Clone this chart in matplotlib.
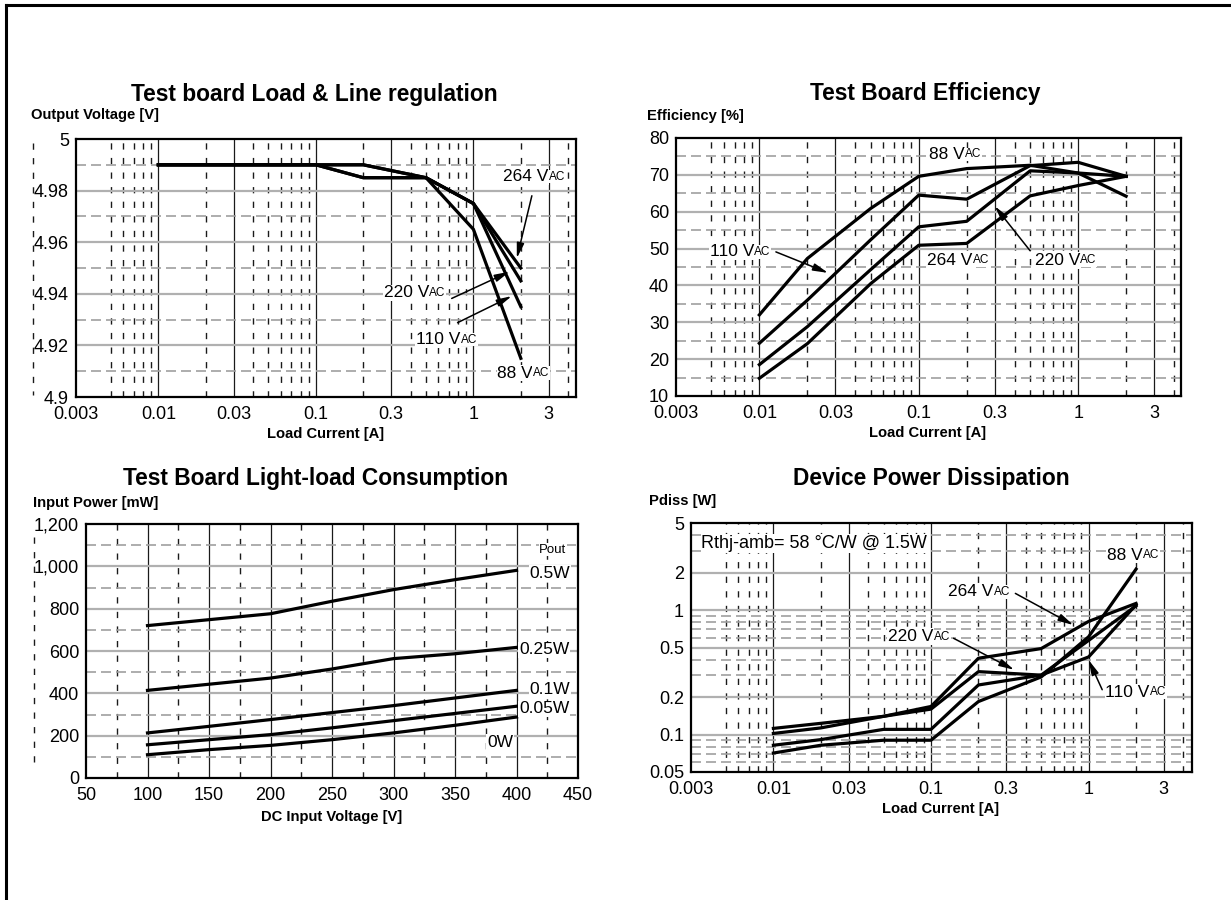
import matplotlib
matplotlib.use("Agg")
import matplotlib.pyplot as plt
from matplotlib.lines import Line2D

plt.rcParams['font.family'] = ['Liberation Sans', 'DejaVu Sans']

W, H = 1231, 900

# ---------------- data ----------------
reg_current = [0.01, 0.1, 0.2, 0.5, 1, 2]
reg_88 = [4.99, 4.99, 4.985, 4.985, 4.965, 4.915]
reg_110 = [4.99, 4.99, 4.985, 4.985, 4.975, 4.935]
reg_220 = [4.99, 4.99, 4.99, 4.985, 4.975, 4.945]
reg_264 = [4.99, 4.99, 4.99, 4.985, 4.975, 4.950]

eff_current = [0.01, 0.02, 0.05, 0.1, 0.2, 0.5, 1, 2]
eff_88 = [32, 47.3, 60.9, 69.6, 71.7, 72.6, 70.5, 64.2]
eff_110 = [24.3, 36, 52.4, 64.5, 63.4, 72.5, 73.4, 69.6]
eff_220 = [18.5, 28.8, 44.3, 55.9, 57.4, 71.1, 70.5, 69.6]
eff_264 = [14.8, 24.2, 40.5, 50.9, 51.4, 64.3, 67.1, 69.6]

dc_voltage = [100, 150, 200, 250, 300, 350, 400]
pin_0w = [110, 134, 154, 181, 213, 249, 288]
pin_005w = [157, 181, 205, 237, 271, 305, 339]
pin_01w = [213, 244, 276, 309, 342, 378, 414]
pin_025w = [414, 443, 472, 515, 564, 587, 617]
pin_05w = [720, 748, 776, 835, 890, 937, 981]

pd_current = [0.01, 0.02, 0.05, 0.1, 0.2, 0.5, 1, 2]
pd_88 = [0.071, 0.082, 0.09, 0.09, 0.184, 0.29, 0.61, 2.13]
pd_110 = [0.082, 0.091, 0.11, 0.11, 0.25, 0.30, 0.42, 1.10]
pd_220 = [0.102, 0.113, 0.14, 0.16, 0.32, 0.30, 0.57, 1.08]
pd_264 = [0.112, 0.123, 0.14, 0.168, 0.41, 0.49, 0.81, 1.13]

log_xticks = [0.003, 0.01, 0.03, 0.1, 0.3, 1, 3]
log_xticklabels = ['0.003', '0.01', '0.03', '0.1', '0.3', '1', '3']
reg_yticks = [4.9, 4.92, 4.94, 4.96, 4.98, 5.0]
reg_yticklabels = ['4.9', '4.92', '4.94', '4.96', '4.98', '5']
eff_yticks = [10, 20, 30, 40, 50, 60, 70, 80]
pin_yticks = [0, 200, 400, 600, 800, 1000, 1200]
pin_yticklabels = ['0', '200', '400', '600', '800', '1,000', '1,200']
pin_xticks = [50, 100, 150, 200, 250, 300, 350, 400, 450]
pd_yticks = [0.05, 0.1, 0.2, 0.5, 1, 2, 5]
pd_yticklabels = ['0.05', '0.1', '0.2', '0.5', '1', '2', '5']

# ---------------- style ----------------
LW = 2.3
TICK_FS = 13
LBL_FS = 12.5

log_vsolid = [0.01, 0.03, 0.1, 0.3, 1, 3]
log_vdash = [0.005, 0.006, 0.007, 0.008, 0.009, 0.02, 0.04, 0.05, 0.06, 0.07,
             0.08, 0.09, 0.2, 0.4, 0.5, 0.6, 0.7, 0.8, 0.9, 2, 4]

VDASH = (0, (4.5, 6.0))
HDASH = (0, (6.0, 3.0))

fig = plt.figure(figsize=(W / 100, H / 100), dpi=100)


def px_axes(l, t, r, b):
    return fig.add_axes([l / W, 1 - b / H, (r - l) / W, (b - t) / H])


def fx(x):
    return x / W


def fy(y):
    return 1 - y / H


def style(ax):
    for s in ax.spines.values():
        s.set_linewidth(1.6)
        s.set_color('black')
        s.set_zorder(6)
    ax.tick_params(length=0, labelsize=TICK_FS)
    ax.tick_params(axis='x', pad=6.5)
    ax.tick_params(axis='y', pad=5)
    ax.minorticks_off()


def grid(ax, vsolid, vdash, hsolid, hdash):
    for v in vsolid:
        ax.axvline(v, color='#1a1a1a', lw=0.9, zorder=1)
    for v in vdash:
        ax.axvline(v, color='#1a1a1a', lw=1.0, ls=VDASH, zorder=1)
    for h in hsolid:
        ax.axhline(h, color='#b0b0b0', lw=1.6, zorder=1)
    for h in hdash:
        ax.axhline(h, color='#a0a0a0', lw=1.2, ls=HDASH, zorder=1)


box = dict(facecolor='white', edgecolor='none', pad=0.5)


def vac(ax, x, y, num, fs=LBL_FS):
    t = ax.text(x, y, f"{num} V", fontsize=fs, ha='left', va='center',
                bbox=box, zorder=7)
    ax.annotate("AC", xy=(1, 0), xycoords=t, xytext=(0, 1.0),
                textcoords='offset points', fontsize=fs * 0.68,
                ha='left', va='bottom', bbox=box, zorder=7)


def arrow(ax, tail, tip):
    ax.annotate('', xy=tip, xytext=tail,
                arrowprops=dict(arrowstyle='-|>,head_length=0.9,head_width=0.22',
                                color='black', lw=1.1, shrinkA=0, shrinkB=0),
                zorder=8)


# ---------------- panel 1 ----------------
ax1 = px_axes(76, 139, 576, 397)
ax1.set_xscale('log')
grid(ax1, log_vsolid, log_vdash, [4.92, 4.94, 4.96, 4.98],
     [4.91, 4.93, 4.95, 4.97, 4.99])
for ys in (reg_88, reg_110, reg_220, reg_264):
    ax1.plot(reg_current, ys, color='black', lw=LW, zorder=3)
ax1.set_xlim(0.003, 4.48)
ax1.set_ylim(4.9, 5.0)
ax1.set_xticks(log_xticks)
ax1.set_xticklabels(log_xticklabels)
ax1.set_yticks(reg_yticks)
ax1.set_yticklabels(reg_yticklabels)
style(ax1)
vac(ax1, 1.55, 4.9855, 264)
arrow(ax1, (2.35, 4.978), (1.886, 4.9538))
vac(ax1, 0.27, 4.9404, 220)
arrow(ax1, (0.728, 4.9382), (1.70, 4.9486))
vac(ax1, 0.433, 4.9223, 110)
arrow(ax1, (0.793, 4.9288), (1.75, 4.9391))
vac(ax1, 1.42, 4.9093, 88)

# ---------------- panel 2 ----------------
ax2 = px_axes(676, 138, 1181, 396)
ax2.set_xscale('log')
grid(ax2, log_vsolid, log_vdash, [20, 30, 40, 50, 60, 70],
     [15, 25, 35, 45, 55, 65, 75])
for ys in (eff_88, eff_110, eff_220, eff_264):
    ax2.plot(eff_current, ys, color='black', lw=LW, zorder=3)
ax2.set_xlim(0.003, 4.42)
ax2.set_ylim(10, 80)
ax2.set_xticks(log_xticks)
ax2.set_xticklabels(log_xticklabels)
ax2.set_yticks(eff_yticks)
style(ax2)
vac(ax2, 0.116, 75.6, 88)
vac(ax2, 0.0049, 49.1, 110)
arrow(ax2, (0.0127, 49.1), (0.027, 43.4))
vac(ax2, 0.113, 46.8, 264)
vac(ax2, 0.536, 46.8, 220)
arrow(ax2, (0.5, 49.4), (0.30, 61.5))

# ---------------- panel 3 ----------------
ax3 = px_axes(86, 524, 578, 778)
grid(ax3, [100, 150, 200, 250, 300, 350, 400],
     [75, 125, 175, 225, 275, 325, 375, 425],
     [200, 400, 600, 800, 1000], [100, 300, 500, 700, 900, 1100])
for ys in (pin_0w, pin_005w, pin_01w, pin_025w, pin_05w):
    ax3.plot(dc_voltage, ys, color='black', lw=LW, zorder=3)
ax3.set_xlim(50, 450)
ax3.set_ylim(0, 1200)
ax3.set_xticks(pin_xticks)
ax3.set_yticks(pin_yticks)
ax3.set_yticklabels(pin_yticklabels)
style(ax3)
ax3.text(429.5, 1079, 'Pout', fontsize=9.5, ha='center', va='center',
         bbox=box, zorder=7)
for x, y, s in ((410.6, 968, '0.5W'), (402, 606, '0.25W'), (410.6, 420, '0.1W'),
                (402, 326, '0.05W'), (376, 168, '0W')):
    ax3.text(x, y, s, fontsize=LBL_FS, ha='left', va='center', bbox=box, zorder=7)

# ---------------- panel 4 ----------------
ax4 = px_axes(691, 523, 1192, 772)
ax4.set_xscale('log')
ax4.set_yscale('log')
grid(ax4, log_vsolid, log_vdash, [0.1, 0.2, 0.5, 1, 2],
     [0.06, 0.07, 0.08, 0.09, 0.3, 0.4, 0.6, 0.7, 0.8, 0.9, 3, 4])
for ys in (pd_88, pd_110, pd_220, pd_264):
    ax4.plot(pd_current, ys, color='black', lw=LW, zorder=3)
ax4.set_xlim(0.003, 4.53)
ax4.set_ylim(0.05, 5)
ax4.set_xticks(log_xticks)
ax4.set_xticklabels(log_xticklabels)
ax4.set_yticks(pd_yticks)
ax4.set_yticklabels(pd_yticklabels)
style(ax4)
ax4.text(0.00349, 3.42, 'Rthj-amb= 58 °C/W @ 1.5W', fontsize=13, ha='left',
         va='center', bbox=box, zorder=7)
vac(ax4, 1.315, 2.76, 88)
vac(ax4, 0.129, 1.40, 264)
arrow(ax4, (0.343, 1.36), (0.80, 0.758))
vac(ax4, 0.0535, 0.611, 220)
arrow(ax4, (0.139, 0.593), (0.337, 0.331))
vac(ax4, 1.278, 0.219, 110)
arrow(ax4, (1.22, 0.229), (1.0, 0.397))

# ---------------- figure texts ----------------
TITLE_FS = 16.4
fig.text(fx(314), fy(101), 'Test board Load & Line regulation', fontsize=TITLE_FS,
         fontweight='bold', ha='center', va='baseline')
fig.text(fx(925), fy(100), 'Test Board Efficiency', fontsize=TITLE_FS,
         fontweight='bold', ha='center', va='baseline')
fig.text(fx(316), fy(485), 'Test Board Light-load Consumption', fontsize=TITLE_FS,
         fontweight='bold', ha='center', va='baseline')
fig.text(fx(931), fy(485), 'Device Power Dissipation', fontsize=TITLE_FS,
         fontweight='bold', ha='center', va='baseline')

AX_FS = 10.6
fig.text(fx(31), fy(119), 'Output Voltage [V]', fontsize=AX_FS, fontweight='bold',
         ha='left', va='baseline')
fig.text(fx(647), fy(120), 'Efficiency [%]', fontsize=AX_FS, fontweight='bold',
         ha='left', va='baseline')
fig.text(fx(33), fy(507), 'Input Power [mW]', fontsize=AX_FS, fontweight='bold',
         ha='left', va='baseline')
fig.text(fx(649), fy(505), 'Pdiss [W]', fontsize=AX_FS, fontweight='bold',
         ha='left', va='baseline')

fig.text(fx(326), fy(434), 'Load Current [A]', fontsize=AX_FS, fontweight='bold',
         ha='center', va='center')
fig.text(fx(928), fy(433), 'Load Current [A]', fontsize=AX_FS, fontweight='bold',
         ha='center', va='center')
fig.text(fx(332), fy(817), 'DC Input Voltage [V]', fontsize=AX_FS, fontweight='bold',
         ha='center', va='center')
fig.text(fx(941), fy(809), 'Load Current [A]', fontsize=AX_FS, fontweight='bold',
         ha='center', va='center')

# stray dashed lines left of the y axes (scan artefacts)
fig.add_artist(Line2D([fx(33), fx(33)], [fy(143), fy(395)], color='#1a1a1a',
                      lw=1.0, ls=VDASH))
fig.add_artist(Line2D([fx(34), fx(34)], [fy(537), fy(770)], color='#1a1a1a',
                      lw=1.0, ls=VDASH))

# outer frame (top and left edges)
fig.add_artist(Line2D([fx(6), 1], [fy(5), fy(5)], color='black', lw=2.2))
fig.add_artist(Line2D([fx(6), fx(6)], [fy(5), 0], color='black', lw=2.2))

fig.savefig('out.png', dpi=100)
